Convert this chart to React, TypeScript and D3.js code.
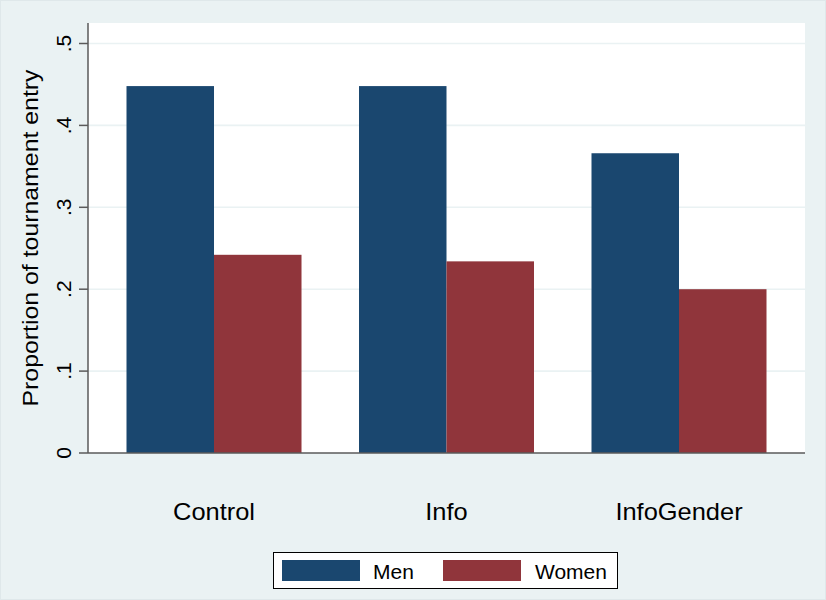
import React from "react";
import * as d3 from "d3";

const categories = ["Control", "Info", "InfoGender"];
const seriesNames = ["Men", "Women"];
const menValues = [0.448, 0.448, 0.366];
const womenValues = [0.242, 0.234, 0.2];
const yTicks = [0, 0.1, 0.2, 0.3, 0.4, 0.5];
const yTickLabels = ["0", ".1", ".2", ".3", ".4", ".5"];
const yTitle = "Proportion of tournament entry";

const W = 826;
const H = 600;
const colors = ["#1a476f", "#90353b"];
const bg = "#eaf2f3";
const font = "'Liberation Sans', Arial, sans-serif";

export default function App() {
  const left = 88, right = 805, top = 23, bottom = 453;
  const y = d3.scaleLinear().domain([0, 0.5]).range([bottom, bottom - 0.5 * 819]);
  const x0 = d3.scaleBand<string>().domain(categories).range([left, right]).paddingInner(0.2473).paddingOuter(0.1656);
  const x1 = d3.scaleBand<string>().domain(seriesNames).range([0, x0.bandwidth()]);
  const series = [menValues, womenValues];

  return (
    <svg width={W} height={H} style={{ position: "absolute", left: 0, top: 0 }} fontFamily={font}>
      <rect x={0} y={0} width={W} height={H} fill={bg} />
      <rect x={0.5} y={0.5} width={W - 1} height={H - 1} fill="none" stroke="#dfe8ea" />
      <rect x={left} y={top} width={right - left} height={bottom - top} fill="#fff" />
      {yTicks.filter((t) => t > 0).map((t) => (
        <line key={t} x1={left} x2={right} y1={y(t)} y2={y(t)} stroke={bg} strokeWidth={1.6} />
      ))}
      {categories.map((c, i) => (
        <g key={c}>
          {seriesNames.map((s, j) => (
            <rect
              key={s}
              x={(x0(c) as number) + (x1(s) as number)}
              y={y(series[j][i])}
              width={x1.bandwidth()}
              height={bottom - y(series[j][i])}
              fill={colors[j]}
            />
          ))}
          <text
            transform={`translate(${(x0(c) as number) + x0.bandwidth() / 2},520) scale(1.06,1)`}
            textAnchor="middle"
            fontSize={24}
            fill="#000"
          >
            {c}
          </text>
        </g>
      ))}
      <line x1={left} x2={left} y1={top} y2={bottom} stroke="#5a5a5a" strokeWidth={1.5} />
      <line x1={left} x2={right} y1={bottom} y2={bottom} stroke="#5a5a5a" strokeWidth={1.5} />
      {yTicks.map((t, i) => (
        <g key={t}>
          <line x1={left - 9} x2={left} y1={y(t)} y2={y(t)} stroke="#5a5a5a" strokeWidth={1.5} />
          <text
            transform={`translate(71,${y(t)}) rotate(-90)`}
            textAnchor="middle"
            fontSize={21}
            fill="#000"
          >
            {yTickLabels[i]}
          </text>
        </g>
      ))}
      <text
        transform={`translate(38,${(top + bottom) / 2}) rotate(-90)`}
        textAnchor="middle"
        fontSize={22}
        textLength={337}
        lengthAdjust="spacingAndGlyphs"
        fill="#000"
      >
        {yTitle}
      </text>
      <g>
        <rect x={273.5} y={552.5} width={344} height={36} fill="#fff" stroke="#000" strokeWidth={1} />
        {seriesNames.map((s, j) => (
          <g key={s}>
            <rect x={282 + j * 161} y={560} width={78} height={21} fill={colors[j]} />
            <text x={373 + j * 162} y={579} fontSize={21} fill="#000">
              {s}
            </text>
          </g>
        ))}
      </g>
    </svg>
  );
}
